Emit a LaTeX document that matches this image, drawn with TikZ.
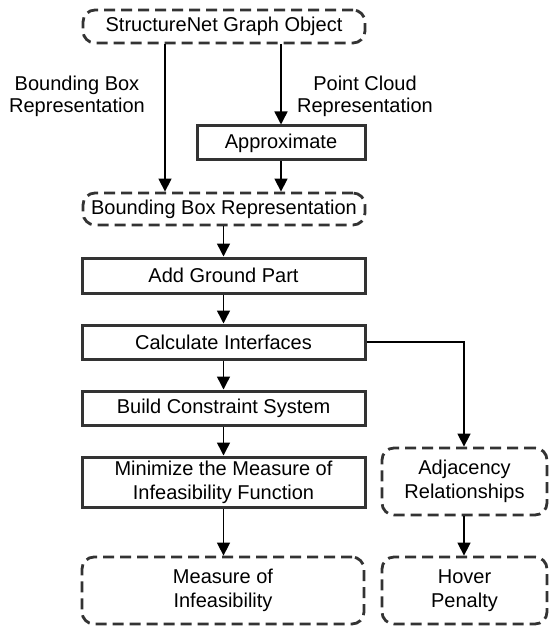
\documentclass[tikz,border=0pt]{standalone}
\usepackage{fontspec}
\setmainfont{Liberation Sans}
\usetikzlibrary{arrows.meta}
\definecolor{edge}{HTML}{333333}
\tikzset{
  every node/.style={font=\fontsize{20}{24}\selectfont, align=center, inner sep=0pt},
  solidbox/.style={draw=edge, line width=3pt},
  dashbox/.style={draw=edge, line width=2.8pt, dash pattern=on 11pt off 6pt, rounded corners=12pt},
  arr/.style={-{Triangle[length=13pt,width=13pt]}, line width=1.5pt, black},
  conn/.style={line width=1.5pt, black}
}
\begin{document}
\begin{tikzpicture}[x=1pt,y=1pt]
\useasboundingbox (0,0) rectangle (548,-628);
\node[dashbox, minimum width=282pt, minimum height=33pt] (top) at (224,-26.5) {StructureNet Graph Object};
\node[solidbox, minimum width=168pt, minimum height=34pt] (approx) at (281,-143) {Approximate};
\node[dashbox, minimum width=282pt, minimum height=32pt] (bbr) at (224,-209) {Bounding Box Representation};
\node[solidbox, minimum width=283pt, minimum height=35pt] (add) at (223.5,-275.5) {Add Ground Part};
\node[solidbox, minimum width=283pt, minimum height=34pt] (calc) at (223.5,-342) {Calculate Interfaces};
\node[solidbox, minimum width=283pt, minimum height=34pt] (build) at (223.5,-408) {Build Constraint System};
\node[solidbox, minimum width=283pt, minimum height=50pt] (min) at (223.5,-482) {Minimize the Measure of\\Infeasibility Function};
\node[dashbox, minimum width=282pt, minimum height=67pt] (meas) at (223,-590.5) {Measure of\\Infeasibility};
\node[dashbox, minimum width=165pt, minimum height=67pt] (adj) at (464.5,-481.5) {Adjacency\\Relationships};
\node[dashbox, minimum width=165pt, minimum height=67pt] (hover) at (464.5,-590.5) {Hover\\Penalty};
\node[font=\fontsize{20}{22}\selectfont] (lbl1) at (77,-96) {Bounding Box\\Representation};
\node[font=\fontsize{20}{22}\selectfont] (lbl2) at (365,-96) {Point Cloud\\Representation};
\coordinate (lx) at (165,0);
\coordinate (rx) at (464,0);
\draw[arr] (top.south -| lx) -- (bbr.north -| lx);
\draw[arr] (top.south -| approx) -- (approx.north);
\draw[arr] (approx.south) -- (bbr.north -| approx);
\draw[arr] (bbr.south -| add) -- (add.north);
\draw[arr] (add) -- (calc);
\draw[arr] (calc) -- (build);
\draw[arr] (build) -- (min);
\draw[arr] (min) -- (meas.north -| min);
\draw[arr] (calc.east) -| (adj.north -| rx);
\draw[arr] (adj.south -| rx) -- (hover.north -| rx);
\end{tikzpicture}
\end{document}
